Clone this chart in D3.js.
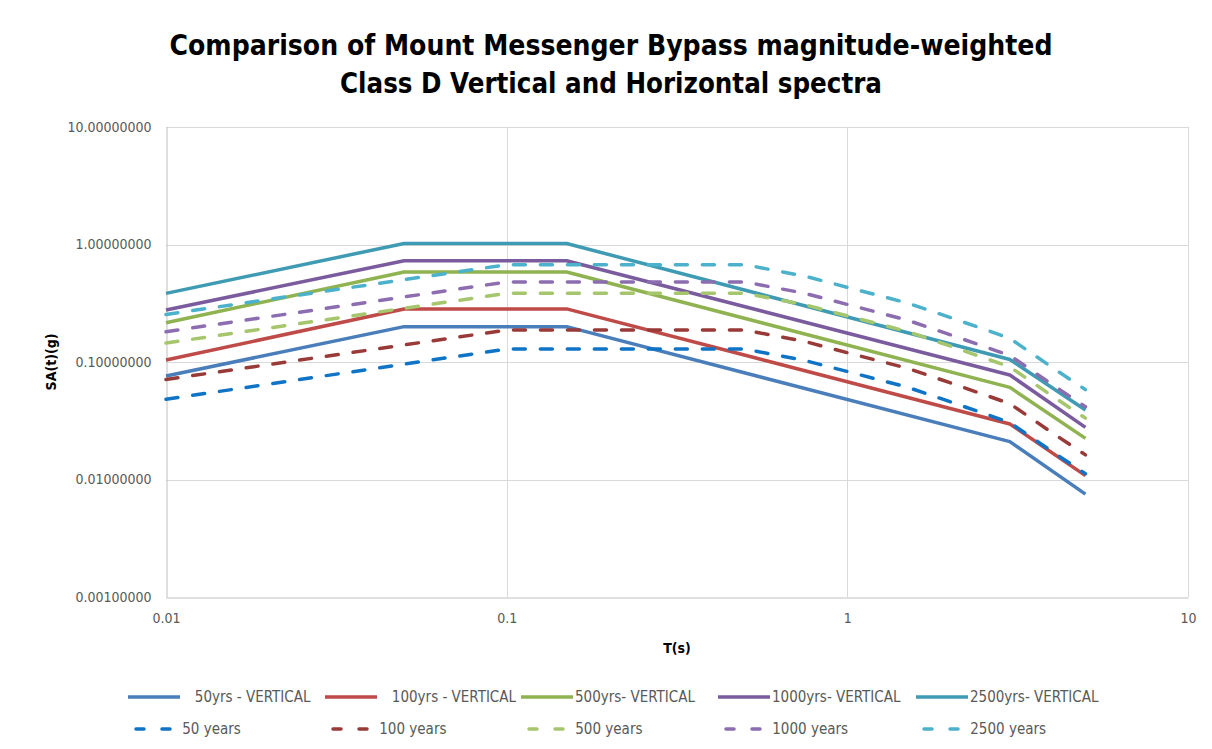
<!DOCTYPE html>
<html>
<head>
<meta charset="utf-8">
<script src="https://cdn.jsdelivr.net/npm/d3@7"></script>
<style>
  body { margin: 0; background: #fff; }
  svg text { font-family: "Liberation Sans Narrow", "DejaVu Sans Condensed", Arial, sans-serif; }
</style>
</head>
<body>
<svg id="chart"></svg>
<script>
// Periods (s)
const periodsVertical = [0.01, 0.05, 0.15, 3, 5];
const periodsHorizontal = [0.01, 0.1, 0.5, 0.75, 1, 1.5, 2, 3, 4, 5];

// Vertical spectra SA (g)
const vert50 = [0.076, 0.20, 0.20, 0.021, 0.0075];
const vert100 = [0.104, 0.283, 0.283, 0.0297, 0.0108];
const vert500 = [0.216, 0.583, 0.583, 0.0608, 0.0224];
const vert1000 = [0.277, 0.728, 0.728, 0.0775, 0.0278];
const vert2500 = [0.384, 1.02, 1.02, 0.105, 0.039];

// Horizontal spectra SA (g)
const horiz50 = [0.0482, 0.129, 0.129, 0.103, 0.083, 0.0611, 0.046, 0.0305, 0.0172, 0.0112];
const horiz100 = [0.071, 0.187, 0.187, 0.1495, 0.120, 0.0885, 0.0667, 0.0442, 0.0249, 0.0162];
const horiz500 = [0.145, 0.384, 0.384, 0.307, 0.247, 0.182, 0.137, 0.0909, 0.0512, 0.0333];
const horiz1000 = [0.181, 0.48, 0.48, 0.384, 0.309, 0.227, 0.171, 0.1136, 0.064, 0.0416];
const horiz2500 = [0.254, 0.673, 0.673, 0.538, 0.432, 0.318, 0.240, 0.159, 0.0896, 0.0582];

const xTicks = [0.01, 0.1, 1, 10];
const yTicks = [0.001, 0.01, 0.1, 1, 10];

const series = [
  {name: "   50yrs - VERTICAL", x: periodsVertical, y: vert50, color: "#4a7ebb", dashed: false},
  {name: "   100yrs - VERTICAL", x: periodsVertical, y: vert100, color: "#be4b48", dashed: false},
  {name: "500yrs- VERTICAL", x: periodsVertical, y: vert500, color: "#8fb350", dashed: false},
  {name: "1000yrs- VERTICAL", x: periodsVertical, y: vert1000, color: "#7a5c9e", dashed: false},
  {name: "2500yrs- VERTICAL", x: periodsVertical, y: vert2500, color: "#3f9bb3", dashed: false},
  {name: " 50 years", x: periodsHorizontal, y: horiz50, color: "#0f73c6", dashed: true},
  {name: " 100 years", x: periodsHorizontal, y: horiz100, color: "#983a37", dashed: true},
  {name: " 500 years", x: periodsHorizontal, y: horiz500, color: "#a5c66c", dashed: true},
  {name: " 1000 years", x: periodsHorizontal, y: horiz1000, color: "#8b6db0", dashed: true},
  {name: " 2500 years", x: periodsHorizontal, y: horiz2500, color: "#4cb2cc", dashed: true}
];

const width = 1212, height = 749;
const margin = {top: 127, right: 24, bottom: 152, left: 166};

const svg = d3.select("#chart").attr("width", width).attr("height", height);

const x = d3.scaleLog().domain([0.01, 10]).range([margin.left, width - margin.right]);
const y = d3.scaleLog().domain([0.001, 10]).range([height - margin.bottom, margin.top]);

// Title
const title = svg.append("g").attr("font-weight", "bold").attr("fill", "#000")
  .attr("text-anchor", "middle").style("font-size", "29px");
title.append("text").attr("x", 611).attr("y", 55)
  .attr("textLength", 883).attr("lengthAdjust", "spacingAndGlyphs")
  .text("Comparison of Mount Messenger Bypass magnitude-weighted");
title.append("text").attr("x", 611).attr("y", 93)
  .attr("textLength", 542).attr("lengthAdjust", "spacingAndGlyphs")
  .text("Class D Vertical and Horizontal spectra");

// Grid
const grid = svg.append("g").attr("stroke", "#d9d9d9").attr("stroke-width", 1);
grid.selectAll("line.h").data(yTicks.slice(1)).enter().append("line")
  .attr("x1", x(0.01)).attr("x2", x(10))
  .attr("y1", d => Math.round(y(d)) + 0.5).attr("y2", d => Math.round(y(d)) + 0.5);
grid.selectAll("line.v").data(xTicks.slice(1)).enter().append("line")
  .attr("y1", y(10)).attr("y2", y(0.001))
  .attr("x1", d => Math.round(x(d)) + 0.5).attr("x2", d => Math.round(x(d)) + 0.5);

// Axes
const xAxis = d3.axisBottom(x).tickValues(xTicks).tickFormat(d => String(d)).tickSize(0).tickPadding(16);
const yAxis = d3.axisLeft(y).tickValues(yTicks).tickFormat(d3.format(".8f")).tickSize(0).tickPadding(15);

const gx = svg.append("g").attr("transform", `translate(0,${Math.round(y(0.001)) + 0.5})`).call(xAxis);
const gy = svg.append("g").attr("transform", `translate(${Math.round(x(0.01)) + 0.5},0)`).call(yAxis);
[gx, gy].forEach(g => {
  g.select(".domain").attr("stroke", "#bfbfbf");
  g.selectAll("text").attr("fill", "#595959").style("font-size", "14px")
    .style("font-family", "\"Liberation Sans Narrow\", \"DejaVu Sans Condensed\", Arial, sans-serif");
});

// Axis titles
svg.append("text").attr("x", 677).attr("y", 653).attr("text-anchor", "middle")
  .attr("font-weight", "bold").style("font-size", "14px").text("T(s)");
svg.append("text").attr("transform", `translate(56,${y(0.1)}) rotate(-90)`)
  .attr("text-anchor", "middle").attr("font-weight", "bold").style("font-size", "14px").text("SA(t)(g)");

// Lines
const line = d3.line().x(d => x(d[0])).y(d => y(d[1]));
svg.append("g").selectAll("path").data(series).enter().append("path")
  .attr("d", s => line(s.x.map((t, i) => [t, s.y[i]])))
  .attr("fill", "none")
  .attr("stroke", s => s.color)
  .attr("stroke-width", 3.5)
  .attr("stroke-linejoin", "round")
  .attr("stroke-linecap", s => s.dashed ? "round" : "butt")
  .attr("stroke-dasharray", s => s.dashed ? "12 15" : null);

// Legend
const legendX = [128, 325, 521, 718, 916];
const legendY = [697, 729];
const legend = svg.append("g");
series.forEach((s, i) => {
  const col = i % 5, row = Math.floor(i / 5);
  const lx = legendX[col], ly = legendY[row];
  const g = legend.append("g");
  if (s.dashed) {
    g.append("line").attr("x1", lx + 8).attr("x2", lx + 44).attr("y1", ly).attr("y2", ly)
      .attr("stroke", s.color).attr("stroke-width", 3.5).attr("stroke-linecap", "round")
      .attr("stroke-dasharray", "8 18");
  } else {
    g.append("line").attr("x1", lx).attr("x2", lx + 52).attr("y1", ly).attr("y2", ly)
      .attr("stroke", s.color).attr("stroke-width", 3.5);
  }
  g.append("text").attr("x", lx + (s.dashed ? 50 : 54)).attr("y", ly + 5)
    .attr("fill", "#595959").style("font-size", "15px").style("white-space", "pre")
    .text(s.name);
});
</script>
</body>
</html>
